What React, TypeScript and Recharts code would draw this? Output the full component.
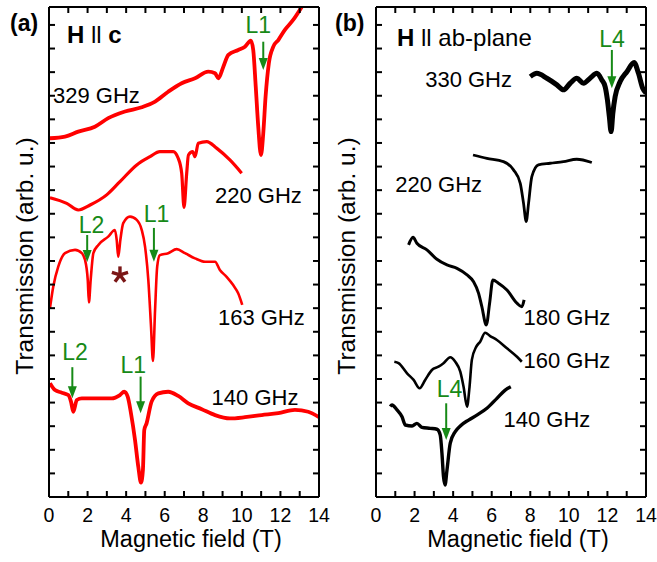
import React from 'react';
import { LineChart, Line, XAxis, YAxis, ReferenceDot, ReferenceLine } from 'recharts';

type Pt = [number, number];

// ---- Panel (a): H || c, transmission vs magnetic field (T) ----
const a329: Pt[] = [
  [0.05, 15.2], [0.83, 15.27], [1.52, 15.48], [2.38, 15.69], [3.07, 16.05], [3.94, 16.33],
  [4.81, 16.51], [5.5, 16.75], [6.18, 17.17], [6.88, 17.53], [7.57, 17.74], [8.26, 18.02],
  [8.61, 17.95], [8.78, 17.74], [9.04, 18.23], [9.3, 18.73], [9.81, 18.94], [10.16, 19.08],
  [10.47, 19.33], [10.59, 18.94], [10.72, 17.39], [10.85, 15.69], [10.99, 14.49], [11.11, 15.41],
  [11.23, 16.96], [11.4, 18.38], [11.63, 19.08], [11.89, 19.36], [12.23, 19.79], [12.66, 20.21],
  [13.17, 20.85],
];
const a220: Pt[] = [
  [0.05, 12.68], [0.92, 12.44], [1.52, 12.16], [2.13, 12.37], [2.99, 12.8], [3.68, 13.36],
  [4.55, 14.07], [5.24, 14.42], [5.75, 14.63], [6.44, 14.63], [6.7, 14.35], [6.88, 13.72],
  [7.0, 12.27], [7.14, 13.72], [7.23, 14.49], [7.45, 14.63], [7.57, 14.42], [7.74, 14.99],
  [8.18, 15.06], [8.69, 14.78], [9.38, 14.28], [9.99, 13.72],
];
const a163: Pt[] = [
  [0.05, 8.0], [0.22, 8.91], [0.48, 9.76], [0.83, 10.33], [1.35, 10.47], [1.7, 10.33],
  [1.87, 10.04], [2.01, 9.19], [2.07, 8.24], [2.16, 9.19], [2.3, 10.33], [2.56, 10.68],
  [3.07, 11.03], [3.42, 11.31], [3.51, 10.89], [3.59, 10.18], [3.7, 10.89], [3.85, 11.6],
  [4.2, 11.88], [4.55, 11.74], [4.81, 11.31], [4.98, 10.61], [5.15, 9.19], [5.29, 7.22],
  [5.39, 5.76], [5.5, 7.92], [5.61, 9.76], [5.75, 10.25], [6.18, 10.33], [6.62, 10.5],
  [7.05, 10.33], [7.57, 10.11], [8.09, 9.97], [8.61, 9.97], [8.86, 9.62], [9.21, 9.33],
  [9.55, 8.98], [9.81, 8.63], [10.02, 8.14],
];
const a140: Pt[] = [
  [0.05, 4.82], [0.31, 4.53], [0.66, 4.42], [1.0, 4.32], [1.14, 4.04], [1.26, 3.61],
  [1.44, 4.11], [1.7, 4.18], [2.38, 4.18], [3.25, 4.18], [3.68, 4.32], [3.9, 4.46],
  [4.08, 4.25], [4.25, 3.55], [4.46, 2.42], [4.63, 1.28], [4.77, 0.61], [4.87, 1.14],
  [4.94, 2.84], [5.06, 3.12], [5.32, 4.04], [5.67, 4.39], [6.18, 4.46], [6.7, 4.28],
  [7.22, 3.97], [7.92, 3.72], [8.61, 3.47], [9.38, 3.33], [10.16, 3.38], [11.03, 3.47],
  [11.89, 3.55], [12.75, 3.69], [13.44, 3.61], [14.0, 3.38],
];

// ---- Panel (b): H || ab-plane ----
const b330: Pt[] = [
  [8.0, 17.81], [8.34, 17.95], [8.86, 17.74], [9.38, 17.46], [9.72, 17.25], [10.07, 17.53],
  [10.41, 17.74], [10.76, 17.53], [11.1, 17.74], [11.45, 17.95], [11.71, 17.67], [11.88, 17.39],
  [12.0, 16.82], [12.1, 16.11], [12.19, 15.48], [12.28, 16.26], [12.4, 16.96], [12.66, 17.6],
  [13.01, 18.02], [13.38, 18.41], [13.61, 17.95], [13.83, 17.32], [14.0, 17.12],
];
const b220: Pt[] = [
  [5.03, 14.49], [5.75, 14.35], [6.61, 14.21], [7.13, 13.86], [7.48, 13.29], [7.65, 12.44],
  [7.79, 11.67], [7.91, 12.44], [8.08, 13.57], [8.42, 14.07], [9.03, 14.14], [9.72, 14.21],
  [10.41, 14.31], [11.19, 14.17],
];
const b180: Pt[] = [
  [1.69, 10.68], [1.92, 11.0], [2.12, 10.75], [2.64, 10.47], [3.16, 10.07], [3.68, 9.83],
  [4.2, 9.69], [4.72, 9.41], [5.06, 9.12], [5.32, 8.63], [5.49, 8.06], [5.72, 7.29],
  [5.89, 8.21], [6.06, 9.19], [6.35, 9.06], [6.79, 8.77], [7.31, 8.21], [7.56, 8.06],
  [7.68, 8.35],
];
const b160: Pt[] = [
  [0.95, 5.73], [1.17, 5.67], [1.61, 5.24], [1.95, 4.96], [2.26, 4.61], [2.55, 4.96],
  [2.9, 5.38], [3.24, 5.52], [3.5, 5.67], [3.85, 5.92], [4.11, 5.73], [4.37, 5.31],
  [4.54, 4.67], [4.72, 3.83], [4.85, 4.67], [4.97, 5.81], [5.2, 6.37], [5.4, 6.58],
  [5.66, 6.96], [5.92, 6.82], [6.27, 6.65], [6.79, 6.3], [7.31, 5.94], [7.56, 5.73],
];
const b140: Pt[] = [
  [0.74, 3.83], [0.83, 3.9], [1.09, 3.69], [1.35, 3.4], [1.52, 3.05], [1.87, 3.01],
  [2.12, 3.12], [2.38, 2.95], [2.81, 2.91], [3.16, 2.87], [3.33, 2.63], [3.42, 1.85],
  [3.5, 0.86], [3.58, 0.51], [3.68, 1.14], [3.85, 2.28], [4.11, 2.77], [4.37, 3.01],
  [4.8, 3.26], [5.23, 3.47], [5.75, 3.76], [6.27, 4.18], [6.7, 4.53], [6.99, 4.67],
];

const fieldTicks = [0, 1, 2, 3, 4, 5, 6, 7, 8, 9, 10, 11, 12, 13, 14];
const transTicks = [0, 1, 2, 3, 4, 5, 6, 7, 8, 9, 10, 11, 12, 13, 14, 15, 16, 17, 18, 19, 20];
const FIELD_RANGE: [number, number] = [0, 14];
const TRANS_RANGE: [number, number] = [0, 20.76];

// Frequency of each sweep, placed next to its trace
const freqsA = [
  { text: '329 GHz', x: 0.21, y: 16.69 },
  { text: '220 GHz', x: 8.61, y: 12.46 },
  { text: '163 GHz', x: 8.76, y: 7.29 },
  { text: '140 GHz', x: 8.43, y: 3.9 },
];
const freqsB = [
  { text: '330 GHz', x: 2.55, y: 17.39 },
  { text: '220 GHz', x: 1.0, y: 12.94 },
  { text: '180 GHz', x: 7.65, y: 7.29 },
  { text: '160 GHz', x: 7.65, y: 5.47 },
  { text: '140 GHz', x: 6.61, y: 2.98 },
];

// Resonance lines: arrow at field x from "top" down to "tip", label at (lx, ly)
type Marker = { label: string; x: number; top: number; tip: number; lx: number; ly: number };
const markersA: Marker[] = [
  { label: 'L1', x: 11.11, top: 19.29, tip: 18.09, lx: 10.85, ly: 19.66 },
  { label: 'L2', x: 1.98, top: 11.1, tip: 9.96, lx: 2.2, ly: 11.19 },
  { label: 'L1', x: 5.44, top: 11.4, tip: 9.97, lx: 5.58, ly: 11.67 },
  { label: 'L2', x: 1.21, top: 5.5, tip: 4.18, lx: 1.35, ly: 5.81 },
  { label: 'L1', x: 4.75, top: 5.1, tip: 3.55, lx: 4.37, ly: 5.24 },
];
const markersB: Marker[] = [
  { label: 'L4', x: 12.23, top: 18.94, tip: 17.32, lx: 12.24, ly: 19.08 },
  { label: 'L4', x: 3.64, top: 3.97, tip: 2.42, lx: 3.81, ly: 4.25 },
];
const starA: Pt = [3.68, 9.41];

const FONT = '"Liberation Sans", Arial, Helvetica, sans-serif';
const RED = '#ff0000';
const BLACK = '#000000';
const GREEN = '#178a17';
const STAR = '#7a1616';

type Trace = { name: string; pts: Pt[]; color: string; width: number };

const tracesA: Trace[] = [
  { name: '329 GHz', pts: a329, color: RED, width: 3.8 },
  { name: '220 GHz', pts: a220, color: RED, width: 3.2 },
  { name: '163 GHz', pts: a163, color: RED, width: 2.6 },
  { name: '140 GHz', pts: a140, color: RED, width: 3.8 },
];
const tracesB: Trace[] = [
  { name: '330 GHz', pts: b330, color: BLACK, width: 5 },
  { name: '220 GHz', pts: b220, color: BLACK, width: 2.8 },
  { name: '180 GHz', pts: b180, color: BLACK, width: 3 },
  { name: '160 GHz', pts: b160, color: BLACK, width: 2.6 },
  { name: '140 GHz', pts: b140, color: BLACK, width: 3.4 },
];

const rows = (pts: Pt[]) => pts.map(([x, y]) => ({ x, y }));

const frameLine = { stroke: '#000', strokeWidth: 2 };

// Box edges of the plot, in axis units
const [X0, X1] = FIELD_RANGE;
const [Y0, Y1] = TRANS_RANGE;
const frameEdges = [
  [{ x: X0, y: Y0 }, { x: X1, y: Y0 }],
  [{ x: X0, y: Y1 }, { x: X1, y: Y1 }],
  [{ x: X0, y: Y0 }, { x: X0, y: Y1 }],
  [{ x: X1, y: Y0 }, { x: X1, y: Y1 }],
];

function ArrowHead(props: any) {
  const { cx, cy } = props;
  if (cx == null || cy == null) return <g />;
  return <path d={`M${cx - 4.5},${cy - 12} L${cx + 4.5},${cy - 12} L${cx},${cy} Z`} fill={GREEN} />;
}

const textAt = (text: string, anchor: 'start' | 'middle', size: number, color: string) =>
  (props: any) => (
    <text x={props.cx} y={props.cy} textAnchor={anchor} fontSize={size} fill={color} fontFamily={FONT}>
      {text}
    </text>
  );

function Asterisk(props: any) {
  const { cx, cy } = props;
  if (cx == null || cy == null) return <g />;
  const arms = [-90, -18, 54, 126, 198].map((a) => {
    const r = (a * Math.PI) / 180;
    return (
      <line key={a} x1={cx} y1={cy} x2={cx + 8.5 * Math.cos(r)} y2={cy + 8.5 * Math.sin(r)}
        stroke={STAR} strokeWidth={3.4} strokeLinecap="butt" />
    );
  });
  return <g>{arms}</g>;
}

function LeftDecor({ tag, tagX, titleX, heading, headingX, headingY }: any) {
  return (
    <g fontFamily={FONT} fill="#000">
      <text x={tagX} y={31} fontSize={23} fontWeight="bold">{tag}</text>
      <text transform={`translate(${titleX},256) rotate(-90)`} textAnchor="middle" fontSize={24.5}>
        Transmission (arb. u.)
      </text>
      <text x={headingX} y={headingY} fontSize={24}>{heading}</text>
    </g>
  );
}

function FieldTitle({ centerX }: any) {
  return (
    <text x={centerX} y={547} textAnchor="middle" fontSize={23.5} fontFamily={FONT} fill="#000">
      Magnetic field (T)
    </text>
  );
}

type PanelProps = {
  width: number;
  axisWidth: number;
  traces: Trace[];
  freqs: { text: string; x: number; y: number }[];
  markers: Marker[];
  star?: Pt;
  tag: string;
  tagX: number;
  titleX: number;
  heading: React.ReactNode;
  headingX: number;
  headingY: number;
  fieldTitleX: number;
};

function Panel(p: PanelProps) {
  return (
    <LineChart width={p.width} height={562} margin={{ top: 2, right: 0, bottom: 0, left: 0 }}>
      <XAxis xAxisId="top" orientation="top" type="number" dataKey="x" domain={FIELD_RANGE}
        ticks={fieldTicks} interval={0} tickSize={-6} tickFormatter={() => ''} height={5}
        allowDataOverflow axisLine={frameLine} tickLine={frameLine} />
      <XAxis xAxisId="bottom" orientation="bottom" type="number" dataKey="x" domain={FIELD_RANGE}
        ticks={fieldTicks} interval={0} tickSize={-6} tickMargin={17.5} height={65}
        tickFormatter={(v: number) => (v % 2 === 0 ? String(v) : '')}
        tick={{ fontSize: 19.5, fill: '#000', fontFamily: FONT }}
        allowDataOverflow axisLine={frameLine} tickLine={frameLine}
        label={<FieldTitle centerX={p.fieldTitleX} />} />
      <YAxis yAxisId="left" orientation="left" type="number" domain={TRANS_RANGE}
        ticks={transTicks} interval={0} tickSize={-6} tickFormatter={() => ''} width={p.axisWidth}
        allowDataOverflow axisLine={frameLine} tickLine={frameLine}
        label={<LeftDecor tag={p.tag} tagX={p.tagX} titleX={p.titleX} heading={p.heading}
          headingX={p.headingX} headingY={p.headingY} />} />
      <YAxis yAxisId="right" orientation="right" type="number" domain={TRANS_RANGE}
        ticks={transTicks} interval={0} tickSize={-6} tickFormatter={() => ''} width={11}
        allowDataOverflow axisLine={frameLine} tickLine={frameLine} />

      {/* plot frame */}
      {frameEdges.map((seg, i) => (
        <ReferenceLine key={'e' + i} xAxisId="bottom" yAxisId="left" ifOverflow="visible"
          segment={seg} stroke="#000" strokeWidth={2} />
      ))}

      {p.traces.map((t, i) => (
        <Line key={t.name} name={t.name} data={rows(t.pts)} dataKey="y"
          xAxisId={i === 0 ? 'top' : 'bottom'} yAxisId={i === 0 ? 'right' : 'left'}
          type="monotone" stroke={t.color} strokeWidth={t.width} strokeLinejoin="round"
          dot={false} activeDot={false} isAnimationActive={false} />
      ))}

      {p.freqs.map((f) => (
        <ReferenceDot key={'f' + f.text} xAxisId="bottom" yAxisId="left" x={f.x} y={f.y} r={0}
          ifOverflow="visible" shape={textAt(f.text, 'start', 22, '#000')} />
      ))}

      {p.markers.map((m, i) => (
        <ReferenceLine key={'s' + i} xAxisId="bottom" yAxisId="left" ifOverflow="visible"
          segment={[{ x: m.x, y: m.top }, { x: m.x, y: m.tip + 0.3 }]} stroke={GREEN} strokeWidth={2} />
      ))}
      {p.markers.map((m, i) => (
        <ReferenceDot key={'h' + i} xAxisId="bottom" yAxisId="left" x={m.x} y={m.tip} r={0}
          ifOverflow="visible" shape={ArrowHead} />
      ))}
      {p.markers.map((m, i) => (
        <ReferenceDot key={'l' + i} xAxisId="bottom" yAxisId="left" x={m.lx} y={m.ly} r={0}
          ifOverflow="visible" shape={textAt(m.label, 'middle', 23, GREEN)} />
      ))}
      {p.star && (
        <ReferenceDot xAxisId="bottom" yAxisId="left" x={p.star[0]} y={p.star[1]} r={0}
          ifOverflow="visible" shape={Asterisk} />
      )}
    </LineChart>
  );
}

export default function App() {
  return (
    <div style={{ position: 'absolute', left: 0, top: 0, width: 657, height: 562, background: '#fff' }}>
      <div style={{ position: 'absolute', left: 0, top: 0 }}>
        <Panel width={330} axisWidth={49} traces={tracesA} freqs={freqsA} markers={markersA} star={starA}
          tag="(a)" tagX={10} titleX={33}
          heading={<><tspan fontWeight="bold">H</tspan>{' ll '}<tspan fontWeight="bold">c</tspan></>}
          headingX={67} headingY={43} fieldTitleX={191} />
      </div>
      <div style={{ position: 'absolute', left: 330, top: 0 }}>
        <Panel width={327} axisWidth={46} traces={tracesB} freqs={freqsB} markers={markersB}
          tag="(b)" tagX={5} titleX={25}
          heading={<><tspan fontWeight="bold">H</tspan>{' ll ab-plane'}</>}
          headingX={67} headingY={46} fieldTitleX={188} />
      </div>
    </div>
  );
}
